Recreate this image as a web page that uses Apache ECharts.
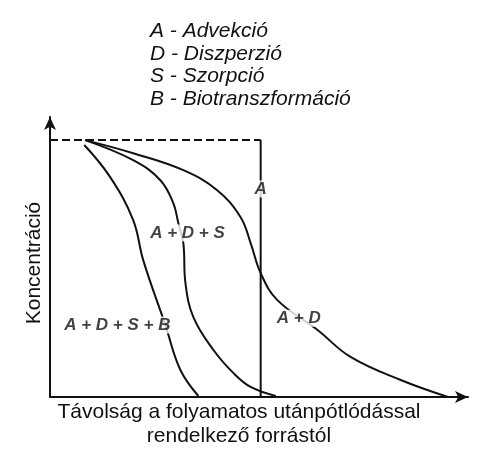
<!DOCTYPE html>
<html><head><meta charset="utf-8">
<script src="https://cdn.jsdelivr.net/npm/echarts@6/dist/echarts.min.js"></script>
<style>html,body{margin:0;padding:0;background:#fff}#c{width:500px;height:466px}</style>
</head><body><div id="c"></div>
<script>
// Schematic: distance (0..100) vs relative concentration C/C0
const legendLines = ['A - Advekció', 'D - Diszperzió', 'S - Szorpció', 'B - Biotranszformáció'];
const yTitle = 'Koncentráció';
const xTitle = ['Távolság a folyamatos utánpótlódással', 'rendelkező forrástól'];
const frontX = 50.4;
const sourceLevel = [[0, 1], [frontX, 1]];
const advection = [[frontX, 1], [frontX, 0]];
const curveAD = [[8.4,1],[19.9,0.949],[31.9,0.883],[40.0,0.805],[45.6,0.700],[48.0,0.599],[50.4,0.482],[54.4,0.377],[64.0,0.261],[71.9,0.156],[83.9,0.066],[95.2,0.0]];
const curveADS = [[8.4,1],[19.9,0.922],[26.4,0.844],[29.5,0.755],[30.7,0.677],[31.9,0.599],[32.4,0.444],[34.3,0.311],[39.1,0.183],[43.9,0.093],[48.0,0.039],[54.0,0.004]];
const curveADSB = [[8.2,0.981],[14.4,0.856],[19.9,0.689],[22.3,0.533],[27.6,0.280],[31.2,0.105],[35.5,0.004]];
const curveLabels = [
  {text: 'A', pos: [50.4, 0.81]},
  {text: 'A + D + S', pos: [32.9, 0.638]},
  {text: 'A + D + S + B', pos: [16.1, 0.280]},
  {text: 'A + D', pos: [59.5, 0.307]}
];

const FONT = '"Liberation Sans", Arial, sans-serif';
const chart = echarts.init(document.getElementById('c'));
const lineStyle = {color: '#111', width: 2};
function curve(data, extra) {
  return Object.assign({type: 'line', data: data, smooth: 0.4, symbol: 'none', lineStyle: lineStyle, z: 2, silent: true}, extra || {});
}
chart.setOption({
  animation: false,
  grid: {left: 50, right: 32, top: 117, bottom: 69},
  xAxis: {type: 'value', min: 0, max: 100, axisLine: {lineStyle: {color: '#111', width: 2}, symbol: ['none', 'arrow'], symbolSize: [9, 13]},
    axisTick: {show: false}, axisLabel: {show: false}, splitLine: {show: false}},
  yAxis: {type: 'value', min: 0, max: 1.09, axisLine: {show: true, lineStyle: {color: '#111', width: 2}, symbol: ['none', 'arrow'], symbolSize: [9, 13]},
    axisTick: {show: false}, axisLabel: {show: false}, splitLine: {show: false}},
  series: [
    curve(sourceLevel, {smooth: false, lineStyle: {color: '#111', width: 2, type: [8, 4]}}),
    curve(advection, {smooth: false}),
    curve(curveAD),
    curve(curveADS),
    curve(curveADSB),
    {type: 'scatter', symbolSize: 0, z: 5, data: curveLabels.map(l => ({value: l.pos, name: l.text})),
      label: {show: true, position: 'inside', formatter: p => p.name, color: '#111', fontFamily: FONT,
        fontStyle: 'italic', fontWeight: 'bold', fontSize: 17, backgroundColor: '#fff', padding: [0, 1]}}
  ],
  graphic: [
    {type: 'text', left: 150, top: 20, style: {text: legendLines.join('\n'), font: 'italic 21px ' + FONT, lineHeight: 22.5, fill: '#111'}},
    {type: 'text', x: 34, y: 263, rotation: Math.PI / 2, style: {text: yTitle, font: '21px ' + FONT, fill: '#111', align: 'center', verticalAlign: 'middle'}},
    {type: 'text', x: 239, y: 400, style: {text: xTitle.join('\n'), font: '21px ' + FONT, lineHeight: 24, fill: '#111', align: 'center'}}
  ]
});
</script></body></html>
